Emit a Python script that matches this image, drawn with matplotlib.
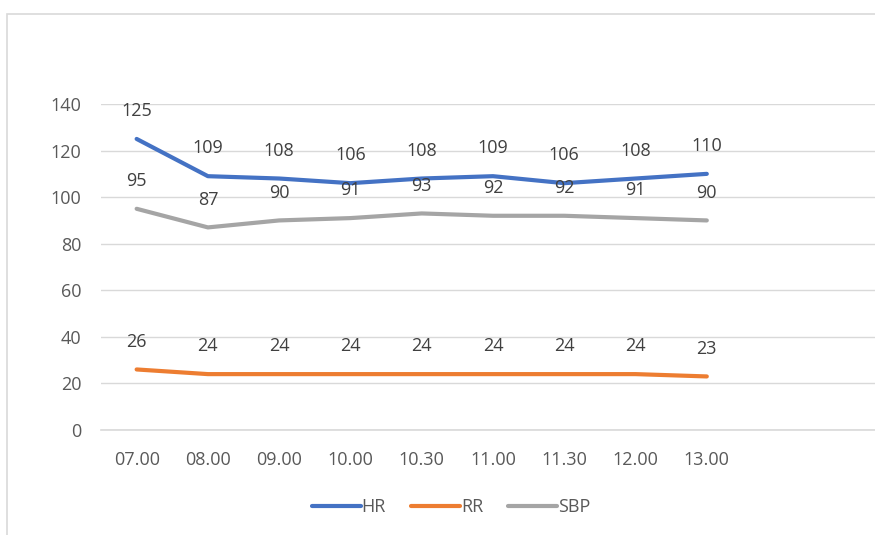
import matplotlib.pyplot as plt
from matplotlib.patches import Rectangle

times = ["07.00", "08.00", "09.00", "10.00", "10.30", "11.00", "11.30", "12.00", "13.00"]
hr = [125, 109, 108, 106, 108, 109, 106, 108, 110]
rr = [26, 24, 24, 24, 24, 24, 24, 24, 23]
sbp = [95, 87, 90, 91, 93, 92, 92, 91, 90]

series = [("HR", hr, "#4472C4"), ("RR", rr, "#ED7D31"), ("SBP", sbp, "#A5A5A5")]

plt.rcParams['font.family'] = ['Open Sans', 'DejaVu Sans']

fig = plt.figure(figsize=(8.75, 5.35), dpi=100)
# outer chart border
fig.patches.append(Rectangle((7 / 875, -0.01), 1.0, 1 - 14 / 535 + 0.01,
                             transform=fig.transFigure, fill=False,
                             edgecolor="#D9D9D9", linewidth=1.2))

ax = fig.add_axes([101 / 875, 1 - 430 / 535, 1 - 101 / 875, (430 - 104) / 535])

x = list(range(len(times)))
for name, vals, col in series:
    ax.plot(x, vals, color=col, linewidth=3, label=name, solid_capstyle="round")
    for xi, v in zip(x, vals):
        ax.annotate(str(v), (xi, v), xytext=(0, 20), textcoords="offset points",
                    ha="center", va="center", fontsize=13, color="#404040")

ax.set_xlim(-0.5, 10.36)
ax.set_ylim(0, 140)
ax.set_yticks(range(0, 141, 20))
ax.set_xticks(x)
ax.set_xticklabels(times)
ax.grid(axis="y", color="#D9D9D9", linewidth=1)
ax.axhline(0, color="#D9D9D9", linewidth=1.2, clip_on=False, zorder=0.5)
ax.set_axisbelow(True)
for s in ax.spines.values():
    s.set_visible(False)
ax.tick_params(length=0, labelsize=13, labelcolor="#595959")
ax.tick_params(axis="y", pad=14)
ax.tick_params(axis="x", pad=15)

fig.legend(loc="center", bbox_to_anchor=(451 / 875, 1 - 507 / 535), ncol=3,
           frameon=False, fontsize=13, handlelength=2.7, handletextpad=0.05,
           columnspacing=1.4, labelcolor="#595959")

fig.savefig("out.png", dpi=100)
